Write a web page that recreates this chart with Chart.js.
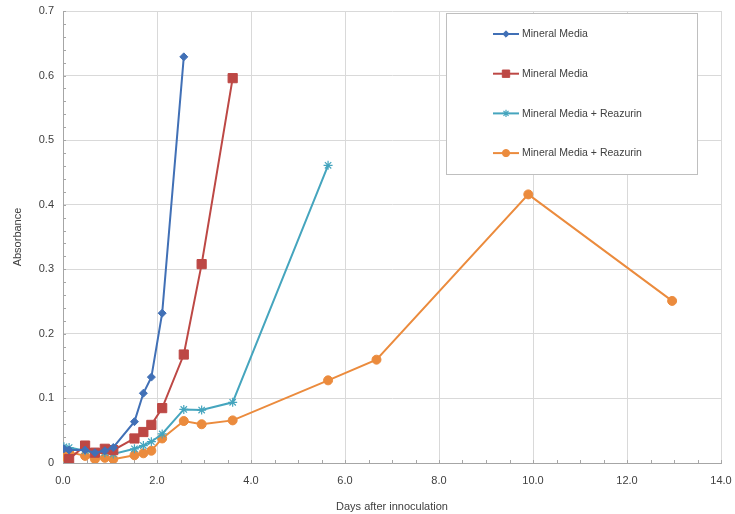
<!DOCTYPE html>
<html>
<head>
<meta charset="utf-8">
<script src="https://cdn.jsdelivr.net/npm/chart.js@4/dist/chart.umd.min.js"></script>
<style>
    html, body { margin: 0; padding: 0; background: #fff; }
    #wrap { position: relative; width: 735px; height: 514px; }
</style>
</head>
<body>
<div id="wrap"><canvas id="absChart" width="735" height="514"></canvas></div>
<script>
// --- Data ---
const seriesNames = ['Mineral Media', 'Mineral Media', 'Mineral Media + Reazurin', 'Mineral Media + Reazurin'];

const blueDays = [0.02, 0.13, 0.47, 0.68, 0.89, 1.07, 1.52, 1.71, 1.88, 2.11, 2.57];
const blueAbs  = [0.022, 0.020, 0.020, 0.016, 0.019, 0.024, 0.064, 0.108, 0.133, 0.232, 0.629];

const redDays = [0.13, 0.47, 0.68, 0.89, 1.07, 1.52, 1.71, 1.88, 2.11, 2.57, 2.95, 3.61];
const redAbs  = [0.006, 0.027, 0.016, 0.022, 0.020, 0.038, 0.048, 0.059, 0.085, 0.168, 0.308, 0.596];

const tealDays = [0.02, 0.13, 0.47, 0.68, 0.89, 1.07, 1.52, 1.71, 1.88, 2.11, 2.57, 2.95, 3.61, 5.64];
const tealAbs  = [0.025, 0.024, 0.019, 0.015, 0.016, 0.014, 0.022, 0.027, 0.033, 0.045, 0.083, 0.082, 0.094, 0.461];

const orangeDays = [0.02, 0.13, 0.47, 0.68, 0.89, 1.07, 1.52, 1.71, 1.88, 2.11, 2.57, 2.95, 3.61, 5.64, 6.67, 9.90, 12.96];
const orangeAbs  = [0.010, 0.017, 0.011, 0.006, 0.008, 0.006, 0.012, 0.015, 0.019, 0.038, 0.065, 0.060, 0.066, 0.128, 0.160, 0.416, 0.251];

const xTickStep = 2;
const yTickStep = 0.1;

(function() {
    'use strict';

    const FONT = '"Liberation Sans", Arial, sans-serif';
    const TEXT = '#404040';
    const GRID = '#D9D9D9';

    const toPoints = (xs, ys) => xs.map((x, i) => ({ x, y: ys[i] }));

    const styles = [
        { color: '#4170B6', pointStyle: 'rectRot', radius: 4, borderWidth: 1 },
        { color: '#BD4845', pointStyle: 'rect', radius: 6.5, borderWidth: 1 },
        { color: '#45A5BE', pointStyle: 'star', radius: 4.5, borderWidth: 1.2 },
        { color: '#EB8B3D', pointStyle: 'circle', radius: 4.5, borderWidth: 1 }
    ];
    const seriesData = [
        toPoints(blueDays, blueAbs),
        toPoints(redDays, redAbs),
        toPoints(tealDays, tealAbs),
        toPoints(orangeDays, orangeAbs)
    ];

    const datasets = seriesData.map((data, i) => ({
        label: seriesNames[i],
        data,
        borderColor: styles[i].color,
        backgroundColor: styles[i].color,
        pointBackgroundColor: styles[i].color,
        pointBorderColor: styles[i].color,
        pointStyle: styles[i].pointStyle,
        pointRadius: styles[i].radius,
        pointBorderWidth: styles[i].borderWidth,
        borderWidth: 2,
        tension: 0,
        fill: false
    }));

    // minor tick marks along both axes
    const minorTicks = {
        id: 'minorTicks',
        beforeDatasetsDraw(chart) {
            const { ctx, scales: { x, y } } = chart;
            ctx.save();
            ctx.strokeStyle = '#A6A6A6';
            ctx.lineWidth = 1;
            ctx.beginPath();
            for (let v = 0; v <= 0.7001; v += 0.02) {
                const py = Math.round(y.getPixelForValue(v)) + 0.5;
                ctx.moveTo(x.left, py);
                ctx.lineTo(x.left + 3, py);
            }
            for (let d = 0; d <= 14.001; d += 0.5) {
                const px = Math.round(x.getPixelForValue(d)) + 0.5;
                ctx.moveTo(px, y.bottom);
                ctx.lineTo(px, y.bottom - 3);
            }
            ctx.stroke();
            ctx.restore();
        }
    };

    // boxed legend inside the plot area, top right
    const boxLegend = {
        id: 'boxLegend',
        afterDraw(chart) {
            const { ctx } = chart;
            const box = { left: 446, top: 13, right: 697, bottom: 174 };
            ctx.save();
            ctx.fillStyle = '#fff';
            ctx.fillRect(box.left, box.top, box.right - box.left, box.bottom - box.top);
            ctx.strokeStyle = '#BFBFBF';
            ctx.lineWidth = 1;
            ctx.strokeRect(box.left + 0.5, box.top + 0.5, box.right - box.left, box.bottom - box.top);

            ctx.font = '10.5px ' + FONT;
            ctx.textBaseline = 'middle';
            seriesNames.forEach((name, i) => {
                const yy = 34 + i * 39.7;
                const st = styles[i];
                ctx.strokeStyle = st.color;
                ctx.fillStyle = st.color;
                ctx.lineWidth = 2;
                ctx.beginPath();
                ctx.moveTo(493, yy);
                ctx.lineTo(519, yy);
                ctx.stroke();
                if (Chart.helpers && Chart.helpers.drawPoint) {
                    ctx.lineWidth = st.borderWidth;
                    Chart.helpers.drawPoint(ctx, {
                        pointStyle: st.pointStyle,
                        radius: st.radius * 0.8,
                        borderWidth: st.borderWidth,
                        rotation: 0
                    }, 506, yy);
                }
                ctx.fillStyle = TEXT;
                ctx.fillText(name, 522, yy + 0.5);
            });
            ctx.restore();
        }
    };

    const ctx = document.getElementById('absChart').getContext('2d');
    new Chart(ctx, {
        type: 'line',
        data: { datasets },
        plugins: [minorTicks, boxLegend],
        options: {
            responsive: false,
            animation: false,
            layout: { padding: { top: 11, right: 14, bottom: 0, left: 0 } },
            plugins: {
                legend: { display: false },
                tooltip: { enabled: false }
            },
            scales: {
                x: {
                    type: 'linear',
                    min: 0,
                    max: 14,
                    afterFit: s => {
                        s.height = 51;
                        s.paddingLeft = 0;
                        s.paddingRight = 0;
                    },
                    ticks: {
                        stepSize: xTickStep,
                        padding: 11,
                        color: TEXT,
                        font: { family: FONT, size: 11 },
                        callback: v => Number(v).toFixed(1)
                    },
                    grid: { color: GRID, drawTicks: false },
                    border: { color: '#A6A6A6' },
                    title: {
                        display: true,
                        text: 'Days after innoculation',
                        color: TEXT,
                        font: { family: FONT, size: 11 },
                        padding: { top: 9.5, bottom: 0 }
                    }
                },
                y: {
                    type: 'linear',
                    min: 0,
                    max: 0.7,
                    afterFit: s => {
                        s.width = 63;
                        s.paddingTop = 0;
                        s.paddingBottom = 0;
                    },
                    ticks: {
                        stepSize: yTickStep,
                        padding: 9,
                        color: TEXT,
                        font: { family: FONT, size: 11 },
                        callback: v => (Math.abs(v) < 1e-9 ? '0' : Number(v).toFixed(1))
                    },
                    grid: { color: GRID, drawTicks: false },
                    border: { color: '#A6A6A6' },
                    title: {
                        display: true,
                        text: 'Absorbance',
                        color: TEXT,
                        font: { family: FONT, size: 11 },
                        padding: { top: 11, bottom: 0 }
                    }
                }
            }
        }
    });
})();
</script>
</body>
</html>
